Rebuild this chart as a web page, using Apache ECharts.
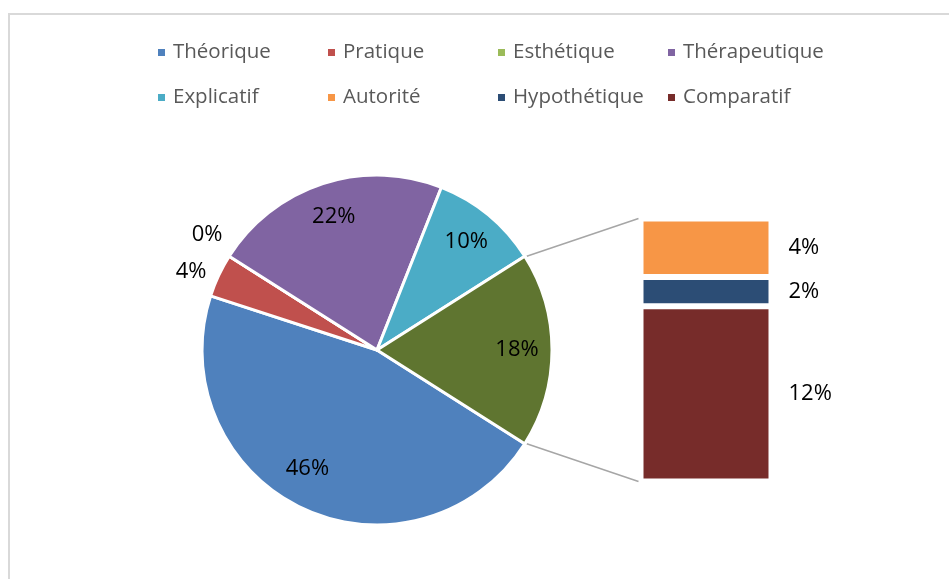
<!DOCTYPE html>
<html>
<head>
<meta charset="utf-8">
<title>Répartition</title>
<script src="https://cdn.jsdelivr.net/npm/echarts@6/dist/echarts.min.js"></script>
<style>
    html, body { margin: 0; padding: 0; background: #fff; }
    #chart { width: 949px; height: 579px; }
</style>
</head>
<body>
<div id="chart"></div>
<script>
    // valeurs (en %)
    const pieNames = ['Théorique', 'Pratique', 'Esthétique', 'Thérapeutique', 'Explicatif'];
    const pieValues = [46, 4, 0, 22, 10];
    const pieColors = ['#4f81bd', '#c0504d', '#9bbb59', '#8064a2', '#4bacc6'];

    // détail de la part "autre" (barre de droite), de haut en bas
    const barNames = ['Autorité', 'Hypothétique', 'Comparatif'];
    const barValues = [4, 2, 12];
    const barColors = ['#f79646', '#2c4d75', '#772c2a'];

    const otherName = 'Autre';
    const otherColor = '#5f7530';

    const FONT = '"Open Sans", "Noto Sans", sans-serif';
    const otherValue = barValues.reduce((a, b) => a + b, 0);
    const total = pieValues.reduce((a, b) => a + b, 0) + otherValue;

    const chart = echarts.init(document.getElementById('chart'));

    // labels placés hors du camembert (petites parts)
    const outsideLabels = ['Pratique', 'Esthétique'];

    let pieData = pieNames.map((name, i) => ({
        name: name,
        value: pieValues[i],
        itemStyle: { color: pieColors[i] }
    }));
    pieData.push({ name: otherName, value: otherValue, itemStyle: { color: otherColor } });

    let legendData = pieNames.map((name, i) => ({ name: name, itemStyle: { color: pieColors[i] } }))
        .concat(barNames.map((name, i) => ({ name: name, itemStyle: { color: barColors[i] } })));

    // la barre empilée : la dernière catégorie en bas
    let barSeries = barNames.map((name, i) => ({
        type: 'bar',
        name: name,
        stack: 'autre',
        data: [barValues[i]],
        barWidth: '100%',
        itemStyle: { color: barColors[i], borderColor: '#fff', borderWidth: 3 },
        label: {
            show: true,
            position: 'right',
            distance: 17,
            color: '#000',
            fontSize: 22,
            fontFamily: FONT,
            formatter: p => p.value + '%'
        }
    })).reverse();

    const startAngle = -otherValue / total * 180;

    let option = {
        animation: false,
        backgroundColor: '#fff',
        legend: {
            data: legendData,
            left: 156,
            top: 35,
            padding: 0,
            width: 680,
            icon: 'rect',
            itemWidth: 9,
            itemHeight: 9,
            itemGap: 10,
            selectedMode: false,
            textStyle: {
                color: '#595959',
                fontSize: 20.5,
                fontFamily: FONT,
                width: 143,
                lineHeight: 35,
                padding: [0, 0, 0, 2]
            }
        },
        grid: {
            left: 640.5,
            top: 218.5,
            width: 131,
            height: 263
        },
        xAxis: { type: 'category', data: [otherName], show: false },
        yAxis: { type: 'value', min: 0, max: otherValue, show: false },
        series: [
            {
                type: 'pie',
                name: 'principal',
                center: [377, 350],
                radius: 175,
                startAngle: startAngle,
                clockwise: true,
                avoidLabelOverlap: false,
                data: pieData.map(d => Object.assign({}, d, {
                    label: { show: outsideLabels.indexOf(d.name) >= 0 }
                })),
                itemStyle: { borderColor: '#fff', borderWidth: 3 },
                label: {
                    position: 'outside',
                    color: '#000',
                    fontSize: 22,
                    fontFamily: FONT,
                    formatter: p => p.value + '%'
                },
                labelLine: { show: false, length: 8, length2: 0 },
                labelLayout: function (params) {
                    // la part nulle : étiquette remontée au-dessus de "Pratique"
                    if (params.dataIndex === 2) {
                        return { dx: 2.5, dy: -8.5 };
                    }
                },
                emphasis: { disabled: true }
            },
            {
                // couche transparente pour placer les étiquettes intérieures
                type: 'pie',
                name: 'etiquettes',
                center: [377, 350],
                radius: [99, 175],
                startAngle: startAngle,
                clockwise: true,
                silent: true,
                data: pieData.map(d => ({
                    name: d.name,
                    value: d.value,
                    label: { show: outsideLabels.indexOf(d.name) < 0 }
                })),
                itemStyle: { color: 'rgba(0,0,0,0)', borderWidth: 0 },
                label: {
                    position: 'inside',
                    color: '#000',
                    fontSize: 22,
                    fontFamily: FONT,
                    formatter: p => p.value + '%'
                },
                labelLine: { show: false },
                labelLayout: function (params) {
                    // "meilleur ajustement" façon tableur pour la grande part
                    if (params.dataIndex === 0) {
                        return { dx: -5, dy: -4 };
                    }
                },
                emphasis: { disabled: true }
            }
        ].concat(barSeries)
    };

    chart.setOption(option);

    // lignes de liaison entre la part "autre" et la barre
    function drawConnectors() {
        let data = chart.getModel().getSeriesByIndex(0).getData();
        let lay = data.getItemLayout(pieData.length - 1);
        let gridRect = chart.getModel().getComponent('grid', 0).coordinateSystem.getRect();
        let yTop = chart.convertToPixel({ gridIndex: 0 }, [0, otherValue])[1];
        let yBottom = chart.convertToPixel({ gridIndex: 0 }, [0, 0])[1];
        let xBar = gridRect.x - 2;
        let a1 = lay.startAngle, a2 = lay.endAngle;
        let p1 = [lay.cx + lay.r * Math.cos(a1), lay.cy + lay.r * Math.sin(a1)];
        let p2 = [lay.cx + lay.r * Math.cos(a2), lay.cy + lay.r * Math.sin(a2)];
        let pts = [p1, p2].sort((a, b) => a[1] - b[1]);
        chart.setOption({
            graphic: [
                {
                    type: 'rect', silent: true,
                    shape: { x: 9, y: 14, width: 980, height: 620 },
                    style: { fill: 'none', stroke: '#d9d9d9', lineWidth: 2 }
                },
                {
                    type: 'line', silent: true,
                    shape: { x1: pts[0][0] + 2, y1: pts[0][1], x2: xBar, y2: yTop },
                    style: { stroke: '#a6a6a6', lineWidth: 1.5 }
                },
                {
                    type: 'line', silent: true,
                    shape: { x1: pts[1][0] + 2, y1: pts[1][1], x2: xBar, y2: yBottom },
                    style: { stroke: '#a6a6a6', lineWidth: 1.5 }
                }
            ]
        });
    }
    drawConnectors();
</script>
</body>
</html>
